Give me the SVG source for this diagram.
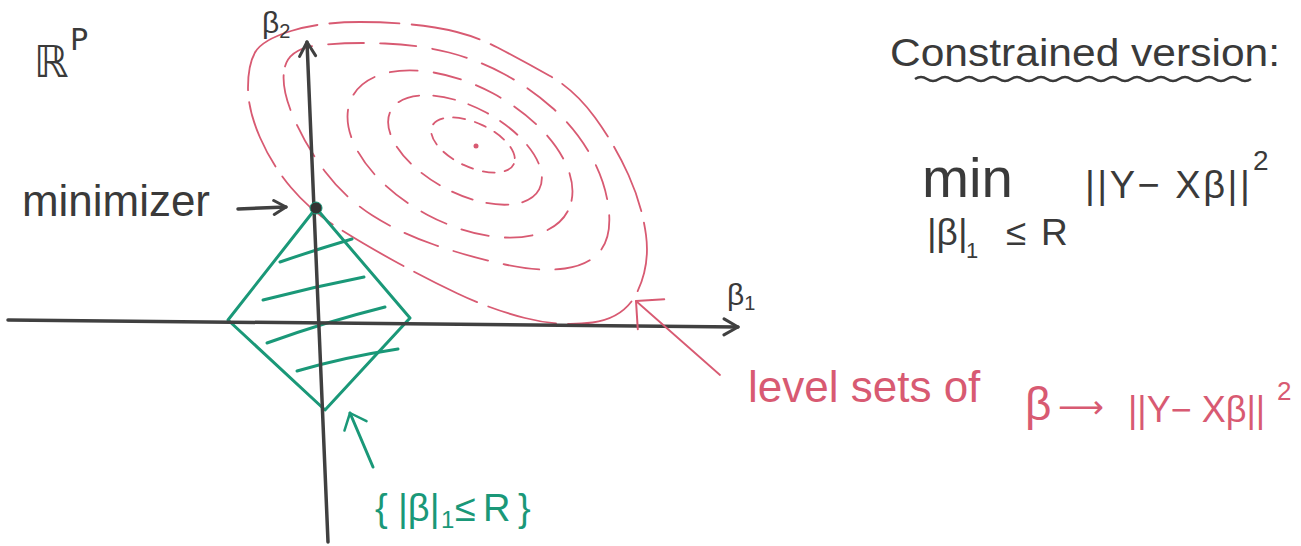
<svg xmlns="http://www.w3.org/2000/svg" width="1301" height="546" viewBox="0 0 1301 546">
<style>
.ink{fill:none;stroke:#404040;stroke-width:3.5;stroke-linecap:round;stroke-linejoin:round}
.grn{fill:none;stroke:#1a9878;stroke-width:3;stroke-linecap:round;stroke-linejoin:round}
.red{fill:none;stroke:#d85a72;stroke-width:1.8;stroke-linecap:round}
.tk{font-family:"Liberation Sans",Arial,sans-serif;fill:#3a3a3a}
.tg{font-family:"Liberation Sans",Arial,sans-serif;fill:#1a9878}
.tr{font-family:"Liberation Sans",Arial,sans-serif;fill:#d85a72}
</style>
<defs>
<marker id="ahk" viewBox="0 0 18 20" refX="16" refY="10" markerWidth="18" markerHeight="20" markerUnits="userSpaceOnUse" orient="auto"><path d="M2,2 L16,10 L2,18" fill="none" stroke="#404040" stroke-width="3" stroke-linecap="round" stroke-linejoin="round"/></marker>
<marker id="ahk2" viewBox="0 0 16 18" refX="14" refY="9" markerWidth="16" markerHeight="18" markerUnits="userSpaceOnUse" orient="auto"><path d="M2,2 L14,9 L2,16" fill="none" stroke="#404040" stroke-width="3" stroke-linecap="round" stroke-linejoin="round"/></marker>
<marker id="ahg" viewBox="0 0 18 28" refX="16" refY="14" markerWidth="18" markerHeight="28" markerUnits="userSpaceOnUse" orient="auto"><path d="M2,2 L16,14 L2,26" fill="none" stroke="#1a9878" stroke-width="2.5" stroke-linecap="round" stroke-linejoin="round"/></marker>
<marker id="ahr" viewBox="0 0 24 44" refX="22" refY="22" markerWidth="24" markerHeight="44" markerUnits="userSpaceOnUse" orient="auto"><path d="M2,2 L22,22 L2,42" fill="none" stroke="#d85a72" stroke-width="2" stroke-linecap="round" stroke-linejoin="round"/></marker>
</defs>
<rect width="1301" height="546" fill="#ffffff"/>

<g id="level-sets">
<path class="red" stroke-dasharray="70 12" d="M255,52.5 Q262,40 291,31 Q320,22 360,22 Q400,22 435,27.5 Q470,33 497.5,47.5 Q525,62 550,76 Q575,90 595,117.5 Q615,145 628.5,175 Q642,205 646,235 Q650,265 637.5,291.5 Q625,318 592.5,322.5 Q560,327 525,318 Q490,309 457.5,293.5 Q425,278 392.5,260 Q360,242 335,226 Q310,210 291,187.5 Q272,165 260,137.5 Q248,110 248,87.5 Q248,65 255,52.5 Z"/>
<path class="red" stroke-dasharray="36 16" d="M285,66.5 Q290,48 320,45 Q350,42 385,43.5 Q420,45 449,52.5 Q478,60 504,74 Q530,88 552.5,108 Q575,128 590,154 Q605,180 608.5,207.5 Q612,235 601,250 Q590,265 565,268.5 Q540,272 505,264.5 Q470,257 435,245 Q400,233 372.5,215.5 Q345,198 325,171.5 Q305,145 292.5,115 Q280,85 285,66.5 Z"/>
<ellipse class="red" stroke-dasharray="28 16" cx="460" cy="154" rx="122" ry="69" transform="rotate(28 460 154)"/>
<ellipse class="red" stroke-dasharray="22 14" cx="465" cy="150" rx="84" ry="43" transform="rotate(28 465 150)"/>
<ellipse class="red" stroke-dasharray="12 10" cx="473" cy="145" rx="45" ry="22" transform="rotate(25 473 145)"/>
<circle cx="476" cy="146" r="2.5" fill="#d85a72"/>
</g>

<g id="constraint-set">
<polygon class="grn" points="316,208 410,318 325,410 228,320"/>
<path class="grn" stroke-width="2.5" d="M280,262 Q315,250 352,239"/>
<path class="grn" stroke-width="2.5" d="M263,300 Q313,287 364,277"/>
<path class="grn" stroke-width="2.5" d="M267,343 Q325,322 385,307"/>
<path class="grn" stroke-width="2.5" d="M297,371 Q345,357 398,349"/>
</g>

<g id="axes">
<line class="ink" x1="8" y1="320" x2="738" y2="327" marker-end="url(#ahk)"/>
<line class="ink" x1="328" y1="542" x2="307" y2="42" marker-end="url(#ahk)"/>
<text class="tk" x="262" y="33" font-size="30">β<tspan font-size="20" dy="5">2</tspan></text>
<text class="tk" x="727" y="305" font-size="30">β<tspan font-size="20" dy="5">1</tspan></text>
</g>

<g id="minimizer-point">
<circle cx="316" cy="208" r="6" fill="#333333" stroke="#1a9878" stroke-width="1"/>
</g>

<g id="space-label">
<text x="34" y="77" font-family="DejaVu Sans, sans-serif" font-size="44" fill="#3a3a3a">ℝ<tspan x="70" y="50" font-size="30">P</tspan></text>
</g>

<g id="minimizer-label">
<text class="tk" x="22" y="216" font-size="44" textLength="188" lengthAdjust="spacingAndGlyphs">minimizer</text>
</g>

<g id="constraint-label">
<text class="tg" font-size="38"><tspan x="375" y="521">{</tspan><tspan x="398" y="521">|β|</tspan><tspan x="441" y="528" font-size="24">1</tspan><tspan x="455" y="521">≤</tspan><tspan x="483" y="521">R</tspan><tspan x="518" y="521">}</tspan></text>
</g>

<g id="level-sets-label">
<text class="tr" font-size="44"><tspan x="748" y="402">level sets of</tspan><tspan x="1025" y="420" font-size="46">β</tspan><tspan x="1058" y="418" font-family="DejaVu Sans, sans-serif" font-size="32">⟶</tspan><tspan x="1128" y="422" font-size="36">||Y− Xβ||</tspan><tspan x="1277" y="400" font-size="26">2</tspan></text>
</g>

<g id="formula">
<text class="tk" x="890" y="66" font-size="38" textLength="390" lengthAdjust="spacingAndGlyphs">Constrained version:</text>
<path fill="none" stroke="#3a3a3a" stroke-width="2.5" d="M915,79 q6,-4 12,0 t12,0 t12,0 t12,0 t12,0 t12,0 t12,0 t12,0 t12,0 t12,0 t12,0 t12,0 t12,0 t12,0 t12,0 t12,0 t12,0 t12,0 t12,0 t12,0 t12,0 t12,0 t12,0 t12,0 t12,0 t12,0 t12,0 t12,0"/>
<text class="tk" x="922" y="197" font-size="55" textLength="91" lengthAdjust="spacingAndGlyphs">min</text>
<text class="tk" font-size="38"><tspan x="1085" y="198" letter-spacing="2.5">||Y− Xβ||</tspan><tspan x="1253" y="170" font-size="28">2</tspan></text>
<text class="tk" font-size="37"><tspan x="927" y="245">|β|</tspan><tspan x="966" y="258" font-size="22">1</tspan><tspan x="1006" y="245">≤</tspan><tspan x="1041" y="245">R</tspan></text>
</g>

<g id="connectors">
<line class="ink" stroke-width="3" x1="238" y1="209" x2="286" y2="207" marker-end="url(#ahk2)"/>
<line class="grn" stroke-width="2.5" x1="373" y1="467" x2="350" y2="413" marker-end="url(#ahg)"/>
<line class="red" stroke-width="2.2" x1="720" y1="375" x2="636" y2="301" marker-end="url(#ahr)"/>
</g>
</svg>
